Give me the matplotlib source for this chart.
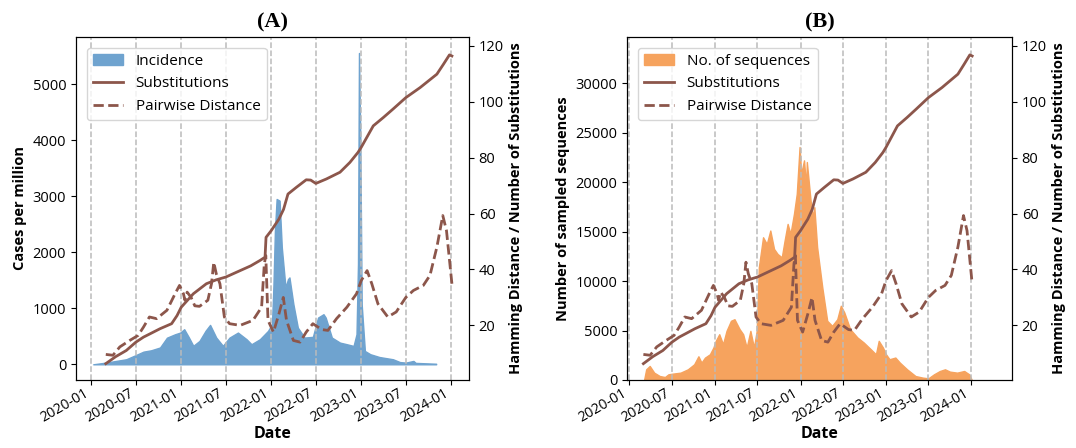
import matplotlib.pyplot as plt
import matplotlib.dates as mdates
import pandas as pd

plt.rcParams['font.family'] = ['Open Sans', 'DejaVu Sans']

# Substitutions (root-to-tip) -- same series on both panels
subs_dates = ['2020-03-01', '2020-04-10', '2020-05-23', '2020-07-01', '2020-08-01', '2020-08-28',
              '2020-10-07', '2020-11-23', '2020-12-15', '2021-01-01', '2021-02-19', '2021-04-13',
              '2021-05-23', '2021-07-01', '2021-08-28', '2021-10-10', '2021-11-16', '2021-12-07',
              '2021-12-11', '2022-01-01', '2022-02-01', '2022-02-20', '2022-03-10', '2022-04-13',
              '2022-05-23', '2022-06-10', '2022-07-01', '2022-08-13', '2022-10-07', '2022-11-16',
              '2022-12-19', '2023-01-01', '2023-02-19', '2023-04-01', '2023-05-10', '2023-07-01',
              '2023-08-28', '2023-11-04', '2023-12-01', '2023-12-25', '2024-01-04']
subs_vals = [6.3, 8.8, 11.0, 14.0, 15.8, 17.0,
             18.8, 20.6, 23.5, 26.5, 31.3, 34.9,
             36.3, 37.3, 39.6, 41.3, 43.2, 44.4,
             51.5, 53.9, 58.0, 61.5, 67.0, 69.4,
             72.1, 72.0, 70.8, 72.4, 74.8, 78.3,
             81.9, 83.7, 91.4, 94.4, 97.4, 101.5,
             105.1, 109.9, 113.5, 116.8, 116.4]

# Mean pairwise Hamming distance
pw_dates = ['2020-03-01', '2020-03-30', '2020-04-27', '2020-06-06', '2020-07-10', '2020-08-01',
            '2020-08-25', '2020-09-23', '2020-11-04', '2020-12-07', '2020-12-25', '2021-01-10',
            '2021-01-16', '2021-01-25', '2021-02-10', '2021-02-25', '2021-03-16', '2021-04-19',
            '2021-05-04', '2021-05-13', '2021-05-23', '2021-06-07', '2021-06-25', '2021-07-16',
            '2021-08-28', '2021-10-19', '2021-11-23', '2021-12-04', '2021-12-10', '2021-12-19',
            '2022-01-10', '2022-02-01', '2022-02-19', '2022-03-04', '2022-04-01', '2022-04-28',
            '2022-05-23', '2022-06-19', '2022-07-25', '2022-08-19', '2022-09-23', '2022-11-04',
            '2022-12-13', '2023-01-01', '2023-01-25', '2023-02-13', '2023-03-10', '2023-04-19',
            '2023-05-23', '2023-07-01', '2023-08-01', '2023-09-10', '2023-10-07', '2023-11-04',
            '2023-11-28', '2023-12-13', '2024-01-04']
pw_vals = [9.6, 9.3, 12.3, 14.6, 16.4, 19.4,
           23.0, 22.4, 25.4, 31.3, 34.3, 31.3,
           29.0, 31.9, 30.0, 27.0, 26.8, 29.0,
           35.0, 42.6, 38.5, 34.9, 23.0, 20.6,
           20.0, 21.8, 26.5, 42.0, 45.0, 21.8,
           17.6, 24.0, 30.0, 21.8, 14.6, 14.0,
           17.6, 20.6, 18.5, 18.2, 22.4, 26.5,
           31.3, 36.0, 39.6, 34.9, 27.7, 23.0,
           24.8, 30.0, 32.5, 34.3, 37.9, 48.0,
           59.3, 53.9, 34.9]

# Incidence (cases per million)
inc_dates = ['2020-01-10', '2020-03-01', '2020-05-23', '2020-07-01', '2020-08-01', '2020-09-01',
             '2020-10-07', '2020-11-04', '2020-12-07', '2020-12-28', '2021-01-13', '2021-02-01',
             '2021-02-19', '2021-03-16', '2021-04-10', '2021-04-28', '2021-05-23', '2021-06-19',
             '2021-07-16', '2021-08-19', '2021-09-23', '2021-10-13', '2021-11-16', '2021-12-19',
             '2022-01-04', '2022-01-10', '2022-01-16', '2022-01-23', '2022-02-04', '2022-02-13',
             '2022-02-28', '2022-03-10', '2022-03-16', '2022-04-01', '2022-04-19', '2022-05-16',
             '2022-06-19', '2022-07-10', '2022-08-01', '2022-08-10', '2022-09-04', '2022-10-07',
             '2022-11-04', '2022-12-01', '2022-12-13', '2022-12-19', '2022-12-23', '2022-12-28',
             '2023-01-03', '2023-01-16', '2023-02-07', '2023-03-16', '2023-05-10', '2023-06-07',
             '2023-07-01', '2023-08-01', '2023-08-10', '2023-11-01']
inc_vals = [0, 30, 90, 165, 226, 250,
            300, 475, 536, 566, 626, 480,
            330, 417, 600, 703, 477, 330,
            477, 566, 447, 358, 447, 596,
            715, 1400, 2380, 2950, 2920, 2086,
            1370, 1520, 1550, 1073, 655, 477,
            490, 834, 894, 834, 477, 387,
            358, 328, 536, 1790, 5555, 4170,
            1072, 238, 180, 130, 90, 40,
            30, 60, 25, 10]

# Number of sampled sequences
seq_dates = ['2020-03-04', '2020-03-13', '2020-03-28', '2020-04-16', '2020-05-10', '2020-06-01',
             '2020-06-16', '2020-07-04', '2020-08-07', '2020-09-07', '2020-10-04', '2020-10-22',
             '2020-11-04', '2020-11-19', '2020-12-10', '2020-12-25', '2021-01-04', '2021-01-19',
             '2021-02-04', '2021-02-19', '2021-03-10', '2021-03-25', '2021-04-16', '2021-05-01',
             '2021-05-16', '2021-06-01', '2021-06-16', '2021-06-28', '2021-07-07', '2021-07-25',
             '2021-08-10', '2021-08-25', '2021-09-10', '2021-09-25', '2021-10-13', '2021-10-25',
             '2021-11-07', '2021-11-19', '2021-12-04', '2021-12-16', '2021-12-28', '2022-01-04',
             '2022-01-16', '2022-01-25', '2022-01-28', '2022-02-13', '2022-02-22', '2022-03-01',
             '2022-03-13', '2022-04-04', '2022-04-25', '2022-05-16', '2022-06-07', '2022-06-22',
             '2022-07-07', '2022-08-01', '2022-09-01', '2022-09-28', '2022-10-28', '2022-11-19',
             '2022-12-01', '2022-12-19', '2023-01-01', '2023-01-16', '2023-02-10', '2023-03-01',
             '2023-04-01', '2023-05-07', '2023-06-07', '2023-07-01', '2023-07-25', '2023-08-19',
             '2023-09-10', '2023-10-01', '2023-11-01', '2023-12-01', '2023-12-22', '2024-01-01']
seq_vals = [0, 1080, 1420, 744, 400, 300,
            575, 640, 744, 1080, 1590, 2400,
            1760, 2266, 2600, 3280, 3960, 4630,
            3620, 4970, 5990, 6150, 5140, 4630,
            3280, 4970, 3280, 4970, 11400, 14440,
            13760, 15120, 13260, 12750, 12410, 14100,
            15790, 14780, 16810, 18840, 23570, 20870,
            22220, 19510, 22050, 18160, 16470, 17480,
            13430, 9370, 5990, 5480, 6150, 7510,
            6830, 5140, 4300, 3790, 3110, 2600,
            3960, 3280, 2600, 2100, 2270, 1760,
            1080, 400, 240, 170, 575, 910,
            1080, 845, 744, 910, 575, 70]

brown = '#8c564b'
grid_dates = pd.date_range('2020-01-01', '2024-01-01', freq='6MS')

fig = plt.figure(figsize=(10.76, 4.48), dpi=100)
ax_a = fig.add_axes([0.0706, 0.1518, 0.3652, 0.7656])
ax_b = fig.add_axes([0.5827, 0.1518, 0.3578, 0.7656])


def draw_panel(ax, fill_x, fill_y, fill_color, fill_label, ylabel, title, xlim):
    fill = ax.fill_between(pd.to_datetime(fill_x), fill_y, 0, color=fill_color,
                           linewidth=1, label=fill_label, zorder=1)
    for d in grid_dates:
        ax.axvline(d, color='#bbbbbb', linestyle='--', linewidth=1.1, zorder=2)
    ax.set_ylabel(ylabel, fontsize=10.5, fontweight='bold')
    ax.set_xlabel('Date', fontsize=11.5, fontweight='bold', labelpad=0)
    ax.set_title(title, fontsize=16, fontweight='bold', family='Liberation Serif', pad=7)
    ax.xaxis.set_major_locator(mdates.MonthLocator(bymonth=[1, 7]))
    ax.xaxis.set_major_formatter(mdates.DateFormatter('%Y-%m'))
    ax.set_xlim(pd.to_datetime(xlim[0]), pd.to_datetime(xlim[1]))
    ax.tick_params(labelsize=10.5)
    ax.tick_params(axis='x', labelsize=10.2, pad=1)
    for lab in ax.get_xticklabels():
        lab.set_rotation(30)
        lab.set_ha('right')

    ax2 = ax.twinx()
    l1, = ax2.plot(pd.to_datetime(subs_dates), subs_vals, color=brown, linewidth=2,
                   label='Substitutions')
    l2, = ax2.plot(pd.to_datetime(pw_dates), pw_vals, color=brown, linewidth=2,
                   linestyle='--', label='Pairwise Distance')
    ax2.set_ylabel('Hamming Distance / Number of Substitutions', fontsize=10.5, fontweight='bold')
    ax2.tick_params(labelsize=10.5)
    ax2.set_ylim(0.45, 123.2)
    ax2.set_xlim(pd.to_datetime(xlim[0]), pd.to_datetime(xlim[1]))
    ax2.legend([fill, l1, l2], [fill_label, 'Substitutions', 'Pairwise Distance'],
               loc='upper left', fontsize=11, borderaxespad=0.7)
    return ax2


draw_panel(ax_a, inc_dates, inc_vals, '#6fa3cf', 'Incidence', 'Cases per million', '(A)',
           ('2019-11-01', '2024-03-13'))
ax_a.set_ylim(-280, 5840)

draw_panel(ax_b, seq_dates, seq_vals, '#f6a35e', 'No. of sequences', 'Number of sampled sequences',
           '(B)', ('2019-12-22', '2024-06-22'))
ax_b.set_ylim(0, 34700)

fig.savefig('out.png', dpi=100)
